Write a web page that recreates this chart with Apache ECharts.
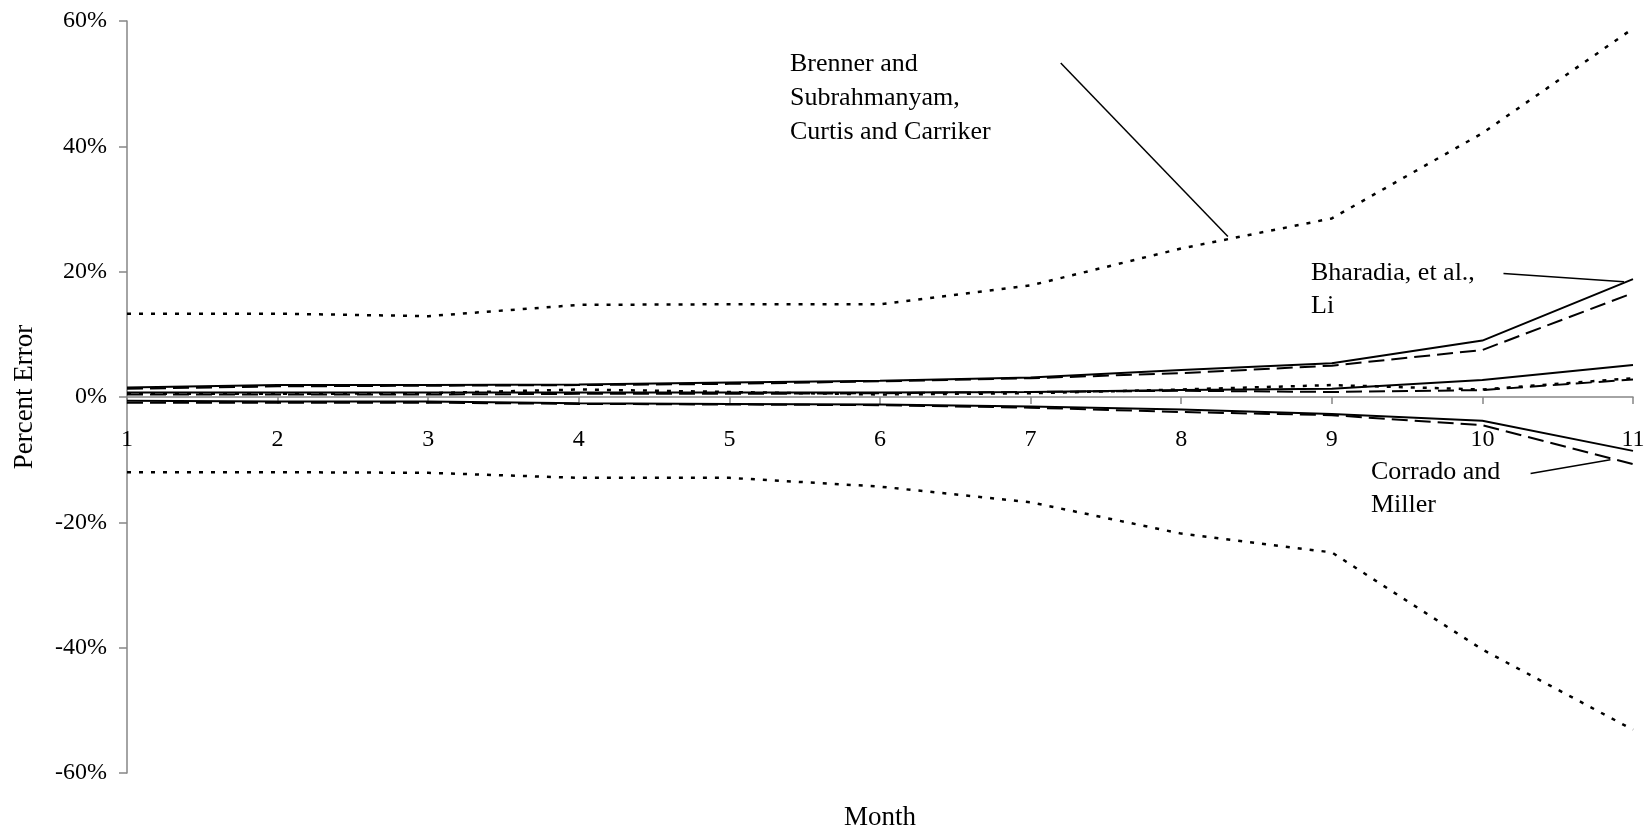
<!DOCTYPE html>
<html lang="en">
<head>
  <meta charset="UTF-8" />
  <title>Percent Error by Month</title>
  <script src="https://cdn.jsdelivr.net/npm/echarts@6/dist/echarts.min.js"></script>
  <style>
    html, body {
      margin: 0;
      padding: 0;
      background: #fff;
    }
    #chart {
      width: 1650px;
      height: 832px;
    }
  </style>
</head>
<body>
  <div id="chart"></div>

  <script>
    // months on the x axis
    const months = [1, 2, 3, 4, 5, 6, 7, 8, 9, 10, 11];

    // Brenner and Subrahmanyam / Curtis and Carriker (dotted)
    const dottedUpper = [13.3, 13.3, 12.9, 14.7, 14.8, 14.8, 17.8, 23.7, 28.5, 42.1, 58.8];
    const dottedMid   = [0.5, 0.5, 0.6, 1.2, 0.8, 0.4, 0.6, 1.2, 1.9, 1.2, 3.0];
    const dottedLower = [-12.0, -12.0, -12.1, -12.9, -12.9, -14.3, -16.8, -21.8, -24.8, -40.3, -53.1];

    // Bharadia, et al. / Li (solid)
    const solidUpper = [1.5, 1.9, 1.9, 2.0, 2.3, 2.6, 3.1, 4.3, 5.4, 9.0, 18.8];
    const solidMid   = [0.7, 0.7, 0.7, 0.7, 0.7, 0.7, 0.8, 1.1, 1.3, 2.7, 5.1];
    const solidLower = [-0.6, -0.7, -0.7, -1.0, -1.1, -1.2, -1.5, -2.0, -2.7, -3.8, -8.6];

    // Corrado and Miller (dashed)
    const dashedUpper = [1.3, 1.7, 1.8, 1.9, 2.1, 2.5, 3.0, 3.8, 5.0, 7.5, 16.6];
    const dashedMid   = [0.4, 0.4, 0.4, 0.5, 0.5, 0.6, 0.8, 1.0, 0.8, 1.1, 2.8];
    const dashedLower = [-0.9, -0.9, -0.9, -1.1, -1.2, -1.3, -1.7, -2.4, -2.9, -4.5, -10.7];

    // y ticks
    const yTicks = { min: -60, max: 60, step: 20 };

    // leader lines of the call-outs, in [month, percent]
    const leaderBrenner = [[7.2, 53.3], [8.31, 25.6]];
    const leaderBharadia = [[10.14, 19.7], [10.94, 18.4]];
    const leaderCorrado = [[10.32, -12.2], [10.85, -10.0]];

    const FONT = '"Times New Roman", "Liberation Serif", serif';
    const AXIS_GREY = '#868686';

    const chart = echarts.init(document.getElementById('chart'));

    function line(name, values, dash, width) {
      return {
        name: name,
        type: 'line',
        data: months.map((m, i) => [m, values[i]]),
        symbol: 'none',
        silent: true,
        lineStyle: { color: '#000', width: width || 2, type: dash }
      };
    }

    function leader(points) {
      return {
        type: 'line',
        data: points,
        symbol: 'none',
        silent: true,
        lineStyle: { color: '#000', width: 1.5, type: 'solid' }
      };
    }

    const DOT = [4, 8];
    const DASH = [16, 7];

    chart.setOption({
      animation: false,
      backgroundColor: '#fff',
      grid: {
        left: 127, right: 17, top: 21, bottom: 59,
        containLabel: false, outerBoundsMode: 'none'
      },
      xAxis: {
        type: 'value',
        min: 1,
        max: 11,
        interval: 1,
        name: 'Month',
        nameLocation: 'middle',
        nameGap: 31,
        nameTextStyle: { fontFamily: FONT, fontSize: 27, color: '#000' },
        axisLine: { onZero: true, lineStyle: { color: AXIS_GREY, width: 1.5 } },
        axisTick: { show: true, inside: false, length: 7, lineStyle: { color: AXIS_GREY, width: 1.5 } },
        splitLine: { show: false },
        axisLabel: {
          // labels sit under the zero line, not at the grid bottom
          fontFamily: FONT, fontSize: 24, color: '#000', margin: -345,
          showMinLabel: true, showMaxLabel: true
        }
      },
      yAxis: {
        type: 'value',
        min: yTicks.min,
        max: yTicks.max,
        interval: yTicks.step,
        name: 'Percent Error',
        nameLocation: 'middle',
        nameRotate: 90,
        nameGap: 89,
        nameTextStyle: { fontFamily: FONT, fontSize: 27, color: '#000' },
        axisLine: { show: true, lineStyle: { color: AXIS_GREY, width: 1.5 } },
        axisTick: { show: true, inside: false, length: 8, lineStyle: { color: AXIS_GREY, width: 1.5 } },
        splitLine: { show: false },
        axisLabel: {
          fontFamily: FONT, fontSize: 24, color: '#000', margin: 20,
          formatter: v => v + '%'
        }
      },
      series: [
        line('Brenner upper', dottedUpper, DOT, 2.5),
        line('Brenner mean', dottedMid, DOT, 2.5),
        line('Brenner lower', dottedLower, DOT, 2.5),
        line('Bharadia upper', solidUpper, 'solid'),
        line('Bharadia mean', solidMid, 'solid'),
        line('Bharadia lower', solidLower, 'solid'),
        line('Corrado upper', dashedUpper, DASH),
        line('Corrado mean', dashedMid, DASH),
        line('Corrado lower', dashedLower, DASH),
        leader(leaderBrenner),
        leader(leaderBharadia),
        leader(leaderCorrado)
      ],
      graphic: [
        {
          type: 'text', left: 790, top: 47, silent: true,
          style: {
            text: 'Brenner and\nSubrahmanyam,\nCurtis and Carriker',
            font: '26px ' + FONT, fill: '#000', lineHeight: 34
          }
        },
        {
          type: 'text', left: 1311, top: 257, silent: true,
          style: {
            text: 'Bharadia, et al.,\nLi',
            font: '26px ' + FONT, fill: '#000', lineHeight: 33
          }
        },
        {
          type: 'text', left: 1371, top: 456, silent: true,
          style: {
            text: 'Corrado and\nMiller',
            font: '26px ' + FONT, fill: '#000', lineHeight: 33
          }
        }
      ]
    });
  </script>
</body>
</html>
